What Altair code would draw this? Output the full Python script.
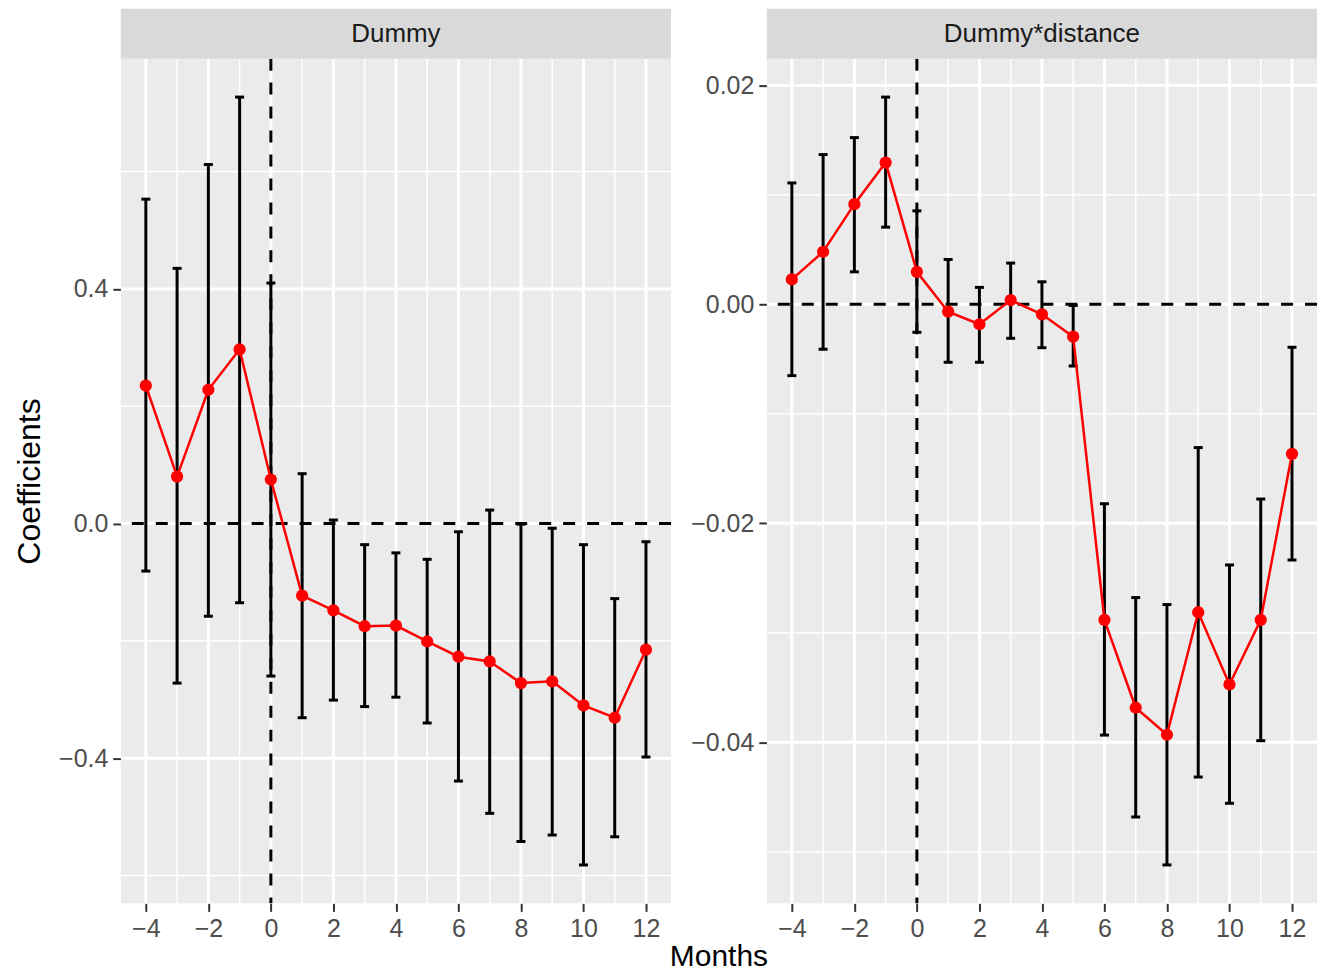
import altair as alt
import pandas as pd

# ---------------- data ----------------
months = list(range(-4, 13))

dummy_coef = [0.235, 0.080, 0.228, 0.297, 0.075, -0.123, -0.148, -0.175, -0.174,
              -0.201, -0.227, -0.235, -0.272, -0.269, -0.310, -0.331, -0.215]
dummy_lo = [-0.081, -0.272, -0.158, -0.135, -0.260, -0.331, -0.301, -0.312, -0.296,
            -0.340, -0.439, -0.494, -0.542, -0.531, -0.582, -0.534, -0.398]
dummy_hi = [0.553, 0.435, 0.612, 0.727, 0.410, 0.085, 0.006, -0.036, -0.050,
            -0.061, -0.014, 0.023, -0.001, -0.008, -0.036, -0.128, -0.031]

dist_coef = [0.00228, 0.00480, 0.00915, 0.01295, 0.00297, -0.00067, -0.00182, 0.00039,
             -0.00091, -0.00295, -0.02882, -0.03684, -0.03931, -0.02812, -0.03472,
             -0.02882, -0.01365]
dist_lo = [-0.00651, -0.00410, 0.00297, 0.00705, -0.00255, -0.00529, -0.00529, -0.00310,
           -0.00396, -0.00563, -0.03934, -0.04682, -0.05120, -0.04317, -0.04557,
           -0.03985, -0.02335]
dist_hi = [0.01109, 0.01368, 0.01523, 0.01893, 0.00854, 0.00410, 0.00155, 0.00377,
           0.00206, -0.0001, -0.01821, -0.02678, -0.02742, -0.01308, -0.02380,
           -0.01778, -0.00392]

panel_labels = ["Dummy", "Dummy*distance"]
x_title = "Months"
y_title = "Coefficients"

x_major = [-4, -2, 0, 2, 4, 6, 8, 10, 12]
x_minor = [-3, -1, 1, 3, 5, 7, 9, 11]
left_y_major = [-0.4, 0.0, 0.4]
left_y_minor = [-0.6, -0.2, 0.2, 0.6]
right_y_major = [-0.04, -0.02, 0.0, 0.02]
right_y_minor = [-0.05, -0.03, -0.01, 0.01]

x_domain = [-4.8, 12.8]
left_y_domain = [-0.6475, 0.7925]
right_y_domain = [-0.05471, 0.02244]

# ---------------- styling ----------------
W, H = 551, 846
GAP = 96
STRIP = 50
FONT = "Liberation Sans"


def panel(coef, lo, hi, label, ydom, ymajor, yminor, fmt, show_ytitle, show_xtitle):
    df = pd.DataFrame({"month": months, "coef": coef, "lo": lo, "hi": hi})
    xs = alt.Scale(domain=x_domain, nice=False, zero=False)
    ys = alt.Scale(domain=ydom, nice=False, zero=False)

    xaxis = alt.Axis(values=x_major, title=None, grid=False, domain=False,
                     tickSize=8, tickWidth=2, tickColor="#333333",
                     labelColor="#4D4D4D", labelFontSize=25, labelPadding=5,
                     labelFont=FONT)
    yaxis = alt.Axis(values=ymajor, format=fmt,
                     title=y_title if show_ytitle else None,
                     titleFontSize=32, titleFontWeight="normal", titleColor="black",
                     titlePadding=12, titleFont=FONT,
                     grid=False, domain=False,
                     tickSize=8, tickWidth=2, tickColor="#333333",
                     labelColor="#4D4D4D", labelFontSize=25, labelPadding=5,
                     labelFont=FONT)

    def X(f):
        return alt.X(f, scale=xs, axis=xaxis)

    def Y(f):
        return alt.Y(f, scale=ys, axis=yaxis)

    gx_minor = alt.Chart(pd.DataFrame({"v": x_minor})).mark_rule(
        color="white", strokeWidth=1.5).encode(x=X("v:Q"))
    gx_major = alt.Chart(pd.DataFrame({"v": x_major})).mark_rule(
        color="white", strokeWidth=3).encode(x=X("v:Q"))
    gy_minor = alt.Chart(pd.DataFrame({"v": yminor})).mark_rule(
        color="white", strokeWidth=1.5).encode(y=Y("v:Q"))
    gy_major = alt.Chart(pd.DataFrame({"v": ymajor})).mark_rule(
        color="white", strokeWidth=3).encode(y=Y("v:Q"))

    ref = pd.DataFrame({"v": [0]})
    hline = alt.Chart(ref).mark_rule(color="black", strokeWidth=3, strokeDash=[12, 12]).encode(
        y=Y("v:Q"))
    vline = alt.Chart(ref).mark_rule(color="black", strokeWidth=3, strokeDash=[12, 12]).encode(
        x=X("v:Q"))

    base = alt.Chart(df)
    bars = base.mark_rule(color="black", strokeWidth=3).encode(
        x=X("month:Q"), y=Y("lo:Q"), y2="hi:Q")
    cap_lo = base.mark_tick(orient="horizontal", size=9, thickness=3, color="black",
                            opacity=1).encode(x=X("month:Q"), y=Y("lo:Q"))
    cap_hi = base.mark_tick(orient="horizontal", size=9, thickness=3, color="black",
                            opacity=1).encode(x=X("month:Q"), y=Y("hi:Q"))
    line = base.mark_line(color="red", strokeWidth=2.5).encode(
        x=X("month:Q"), y=Y("coef:Q"))
    pts = base.mark_circle(color="red", size=150, opacity=1).encode(
        x=X("month:Q"), y=Y("coef:Q"))

    sdf = pd.DataFrame({"label": [label]})
    strip = alt.Chart(sdf).mark_rect(color="#D9D9D9").encode(
        x=alt.value(0), x2=alt.value(W), y=alt.value(-STRIP), y2=alt.value(0))
    strip_text = alt.Chart(sdf).mark_text(fontSize=26, color="#1A1A1A", font=FONT,
                                          baseline="middle", align="center").encode(
        text="label:N", x=alt.value(W / 2), y=alt.value(-STRIP / 2))

    layers = [gx_minor, gy_minor, gx_major, gy_major, hline, vline,
              bars, cap_lo, cap_hi, line, pts, strip, strip_text]
    if show_xtitle:
        tdf = pd.DataFrame({"t": [x_title]})
        layers.append(alt.Chart(tdf).mark_text(fontSize=30, color="black", font=FONT,
                                               baseline="middle", align="center").encode(
            text="t:N", x=alt.value(-GAP / 2), y=alt.value(900)))
    return alt.layer(*layers).properties(width=W, height=H)


left = panel(dummy_coef, dummy_lo, dummy_hi, panel_labels[0], left_y_domain,
             left_y_major, left_y_minor, ".1f", True, False)
right = panel(dist_coef, dist_lo, dist_hi, panel_labels[1], right_y_domain,
              right_y_major, right_y_minor, ".2f", False, True)

chart = alt.hconcat(left, right, spacing=GAP, bounds="flush").properties(
    padding={"left": 5, "top": 0, "right": 0, "bottom": 0}
).configure(font=FONT).configure_view(fill="#EBEBEB", strokeWidth=0)

chart.save("out.html", embed_options={"renderer": "svg", "actions": False})
